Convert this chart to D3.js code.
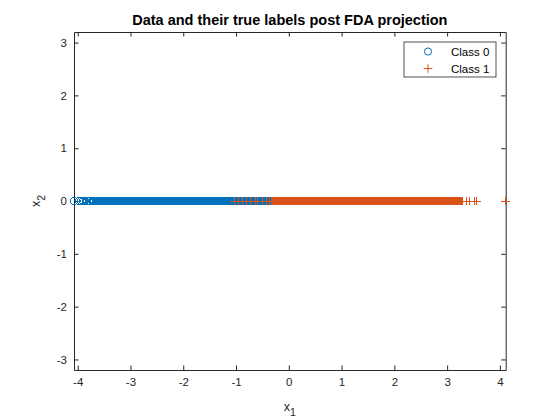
<!DOCTYPE html>
<html>
<head>
<meta charset="utf-8">
<script src="https://cdn.jsdelivr.net/npm/d3@7"></script>
<style>
  body { margin: 0; background: #fff; }
  text { font-family: Arial, "Liberation Sans", Helvetica, sans-serif; }
</style>
</head>
<body>
<div id="chart"></div>
<script>
// Projected values (x1) for each class, all at x2 = 0
const class0 = [
  -4.07, -3.97, -3.93, -3.90, -3.87, -3.84, -3.82, -3.79, -3.77, -3.75, -3.72, -3.70, -3.68,
  -3.650, -3.633, -3.616, -3.600, -3.583, -3.566, -3.550, -3.533, -3.516, -3.500, -3.483, -3.466,
  -3.450, -3.433, -3.416, -3.400, -3.383, -3.366, -3.350, -3.333, -3.316, -3.300, -3.283, -3.266,
  -3.250, -3.233, -3.216, -3.200, -3.183, -3.166, -3.150, -3.133, -3.116, -3.100, -3.083, -3.066,
  -3.050, -3.033, -3.016, -3.000, -2.983, -2.966, -2.950, -2.933, -2.916, -2.900, -2.883, -2.866,
  -2.850, -2.833, -2.816, -2.800, -2.783, -2.766, -2.750, -2.733, -2.716, -2.700, -2.683, -2.666,
  -2.650, -2.633, -2.616, -2.600, -2.583, -2.566, -2.550, -2.533, -2.516, -2.500, -2.483, -2.466,
  -2.450, -2.433, -2.416, -2.400, -2.383, -2.366, -2.350, -2.333, -2.316, -2.300, -2.283, -2.266,
  -2.250, -2.233, -2.216, -2.200, -2.183, -2.166, -2.150, -2.133, -2.116, -2.100, -2.083, -2.066,
  -2.050, -2.033, -2.016, -2.000, -1.983, -1.966, -1.950, -1.933, -1.916, -1.900, -1.883, -1.866,
  -1.850, -1.833, -1.816, -1.800, -1.783, -1.766, -1.750, -1.733, -1.716, -1.700, -1.683, -1.666,
  -1.650, -1.633, -1.616, -1.600, -1.583, -1.566, -1.550, -1.533, -1.516, -1.500, -1.483, -1.466,
  -1.450, -1.433, -1.416, -1.400, -1.383, -1.366, -1.350, -1.333, -1.316, -1.300, -1.283, -1.266,
  -1.250, -1.233, -1.216, -1.200, -1.183, -1.166, -1.150, -1.133, -1.116, -1.100, -1.083, -1.066,
  -1.050, -1.033, -1.016, -1.000, -0.983, -0.966, -0.950, -0.933, -0.916, -0.900, -0.883, -0.866,
  -0.850, -0.833, -0.816, -0.800, -0.783, -0.766, -0.750, -0.733, -0.716, -0.700, -0.683, -0.666,
  -0.650, -0.633, -0.616, -0.600, -0.583, -0.566, -0.550, -0.533, -0.516, -0.500, -0.483, -0.466,
  -0.450, -0.433, -0.416, -0.400, -0.383, -0.366, -0.350, -0.333, -0.316,
  -0.28, -0.24, -0.20, -0.15, -0.11, -0.06, -0.02, 0.03, 0.08, 0.13, 0.18, 0.24, 0.30, 0.36,
  0.43, 0.50, 0.58, 0.66, 0.75, 0.86, 0.98, 1.12, 1.29
];

const class1 = [
  -1.03, -0.95, -0.88, -0.81, -0.73, -0.64, -0.59, -0.50, -0.42, -0.36,
  -0.320, -0.310, -0.300, -0.283, -0.266, -0.250, -0.233, -0.216, -0.200, -0.183, -0.166,
  -0.150, -0.133, -0.116, -0.100, -0.083, -0.066, -0.050, -0.033, -0.016,
  0.000, 0.017, 0.034, 0.050, 0.067, 0.084, 0.100, 0.117, 0.134, 0.150, 0.167, 0.184,
  0.200, 0.217, 0.234, 0.250, 0.267, 0.284, 0.300, 0.317, 0.334, 0.350, 0.367, 0.384,
  0.400, 0.417, 0.434, 0.450, 0.467, 0.484, 0.500, 0.517, 0.534, 0.550, 0.567, 0.584,
  0.600, 0.617, 0.634, 0.650, 0.667, 0.684, 0.700, 0.717, 0.734, 0.750, 0.767, 0.784,
  0.800, 0.817, 0.834, 0.850, 0.867, 0.884, 0.900, 0.917, 0.934, 0.950, 0.967, 0.984,
  1.000, 1.017, 1.034, 1.050, 1.067, 1.084, 1.100, 1.117, 1.134, 1.150, 1.167, 1.184,
  1.200, 1.217, 1.234, 1.250, 1.267, 1.284, 1.300, 1.317, 1.334, 1.350, 1.367, 1.384,
  1.400, 1.417, 1.434, 1.450, 1.467, 1.484, 1.500, 1.517, 1.534, 1.550, 1.567, 1.584,
  1.600, 1.617, 1.634, 1.650, 1.667, 1.684, 1.700, 1.717, 1.734, 1.750, 1.767, 1.784,
  1.800, 1.817, 1.834, 1.850, 1.867, 1.884, 1.900, 1.917, 1.934, 1.950, 1.967, 1.984,
  2.000, 2.017, 2.034, 2.050, 2.067, 2.084, 2.100, 2.117, 2.134, 2.150, 2.167, 2.184,
  2.200, 2.217, 2.234, 2.250, 2.267, 2.284, 2.300, 2.317, 2.334, 2.350, 2.367, 2.384,
  2.400, 2.417, 2.434, 2.450, 2.467, 2.484, 2.500, 2.517, 2.534, 2.550, 2.567, 2.584,
  2.600, 2.617, 2.634, 2.650, 2.667, 2.684, 2.700, 2.717, 2.734, 2.750, 2.767, 2.784,
  2.800, 2.817, 2.834, 2.850, 2.867, 2.884, 2.900, 2.917, 2.934, 2.950, 2.967, 2.984,
  3.000, 3.017, 3.034, 3.050, 3.067, 3.084, 3.100, 3.117, 3.134, 3.150, 3.167, 3.184,
  3.200, 3.217, 3.234, 3.250, 3.267,
  3.30, 3.37, 3.43, 3.51, 3.56, 4.11
];

const xTicks = [-4, -3, -2, -1, 0, 1, 2, 3, 4];
const yTicks = [-3, -2, -1, 0, 1, 2, 3];
const xDomain = [-4.07, 4.11];
const yDomain = [-3.2, 3.2];
const legendLabels = ["Class 0", "Class 1"];

const W = 560, H = 420;
const box = { left: 74, right: 505.7, top: 32, bottom: 370 };
const axisColor = "#262626";
const blue = "#0072BD", orange = "#D95319";
const fmt = d => String(d); // plain hyphen minus, like MATLAB

const svg = d3.select("#chart")
  .append("svg")
  .attr("width", W)
  .attr("height", H);

svg.append("rect")
  .attr("width", W)
  .attr("height", H)
  .attr("fill", "#fff");

const x = d3.scaleLinear().domain(xDomain).range([box.left, box.right]);
const y = d3.scaleLinear().domain(yDomain).range([box.bottom, box.top]);

// Axes (ticks inside, mirrored on top/right)
const styleAxis = (g) => {
  g.selectAll("path").attr("stroke", axisColor).attr("stroke-width", 1);
  g.selectAll("line").attr("stroke", axisColor).attr("stroke-width", 1);
  g.selectAll("text")
    .attr("fill", axisColor)
    .attr("font-size", 11.5)
    .style("font-family", "Arial, 'Liberation Sans', sans-serif");
};

svg.append("g")
  .attr("transform", `translate(0,${box.bottom})`)
  .call(d3.axisBottom(x).tickValues(xTicks).tickFormat(fmt).tickSizeInner(-4.5).tickSizeOuter(0).tickPadding(8))
  .call(styleAxis);

svg.append("g")
  .attr("transform", `translate(0,${box.top})`)
  .call(d3.axisTop(x).tickValues(xTicks).tickSizeInner(-4.5).tickSizeOuter(0).tickFormat(""))
  .call(styleAxis);

svg.append("g")
  .attr("transform", `translate(${box.left},0)`)
  .call(d3.axisLeft(y).tickValues(yTicks).tickFormat(fmt).tickSizeInner(-4.5).tickSizeOuter(0).tickPadding(7))
  .call(styleAxis);

svg.append("g")
  .attr("transform", `translate(${box.right},0)`)
  .call(d3.axisRight(y).tickValues(yTicks).tickSizeInner(-4.5).tickSizeOuter(0).tickFormat(""))
  .call(styleAxis);

// Class 0 circles
svg.append("g")
  .attr("shape-rendering", "crispEdges")
  .selectAll("circle")
  .data(class0)
  .join("circle")
  .attr("cx", d => x(d))
  .attr("cy", y(0))
  .attr("r", 3.8)
  .attr("fill", "none")
  .attr("stroke", blue)
  .attr("stroke-width", 1);

// Class 1 plus markers
const plus = (s) => `M${-s},0H${s}M0,${-s}V${s}`;
svg.append("g")
  .attr("shape-rendering", "crispEdges")
  .selectAll("path")
  .data(class1)
  .join("path")
  .attr("transform", d => `translate(${x(d)},${y(0)})`)
  .attr("d", plus(4.4))
  .attr("fill", "none")
  .attr("stroke", orange)
  .attr("stroke-width", 1);

// Title and axis labels
svg.append("text")
  .attr("x", (box.left + box.right) / 2)
  .attr("y", 25)
  .attr("text-anchor", "middle")
  .attr("font-size", 14.5)
  .attr("font-weight", "bold")
  .attr("fill", "#000")
  .text("Data and their true labels post FDA projection");

const xl = svg.append("text")
  .attr("x", (box.left + box.right) / 2)
  .attr("y", 411)
  .attr("text-anchor", "middle")
  .attr("font-size", 12.5)
  .attr("fill", axisColor);
xl.append("tspan").text("x");
xl.append("tspan").attr("font-size", 10.5).attr("dy", 5).text("1");

const yl = svg.append("text")
  .attr("transform", `translate(40,${y(0)}) rotate(-90)`)
  .attr("text-anchor", "middle")
  .attr("font-size", 12.5)
  .attr("fill", axisColor);
yl.append("tspan").text("x");
yl.append("tspan").attr("font-size", 10.5).attr("dy", 5).text("2");

// Legend
const legend = svg.append("g")
  .attr("transform", "translate(404,42)");

legend.append("rect")
  .attr("width", 92)
  .attr("height", 35)
  .attr("fill", "#fff")
  .attr("stroke", axisColor)
  .attr("stroke-width", 0.8);

legendLabels.forEach((label, i) => {
  const ly = 9.5 + i * 17;
  if (i === 0) {
    legend.append("circle")
      .attr("cx", 24)
      .attr("cy", ly)
      .attr("r", 3.6)
      .attr("fill", "none")
      .attr("stroke", blue);
  } else {
    legend.append("path")
      .attr("transform", `translate(24,${ly})`)
      .attr("d", plus(4.3))
      .attr("stroke", orange);
  }
  legend.append("text")
    .attr("x", 47)
    .attr("y", ly)
    .attr("dy", "0.35em")
    .attr("font-size", 11.5)
    .attr("fill", "#000")
    .text(label);
});
</script>
</body>
</html>
